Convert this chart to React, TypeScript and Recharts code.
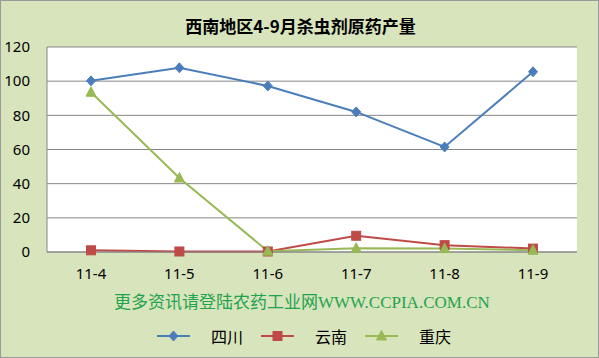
import { LineChart, Line, XAxis, YAxis, CartesianGrid } from "recharts";

const months = ["11-4", "11-5", "11-6", "11-7", "11-8", "11-9"];
const sichuan = [100.2, 107.8, 97.2, 82, 61.5, 105.5];
const yunnan = [1, 0.3, 0.3, 9.5, 4, 2];
const chongqing = [93.5, 43.3, 0.5, 2.2, 2, 1];
const yTicks = [0, 20, 40, 60, 80, 100, 120];

const series = [
    { key: "sichuan", name: "四川", color: "#4a7ebb", shape: "diamond" },
    { key: "yunnan", name: "云南", color: "#be4b48", shape: "square" },
    { key: "chongqing", name: "重庆", color: "#98b954", shape: "triangle" },
];

const data = months.map((m, i) => ({
    month: m,
    sichuan: sichuan[i],
    yunnan: yunnan[i],
    chongqing: chongqing[i],
}));

function Marker({ cx, cy, shape, color }: { cx: number; cy: number; shape: string; color: string }) {
    if (shape === "diamond") {
        return <path d={`M${cx},${cy - 5}L${cx + 4.5},${cy}L${cx},${cy + 5}L${cx - 4.5},${cy}Z`} fill={color} stroke={color} />;
    }
    if (shape === "square") {
        return <rect x={cx - 4.5} y={cy - 4.5} width={9} height={9} fill={color} stroke={color} />;
    }
    return <path d={`M${cx},${cy - 5.5}L${cx + 5},${cy + 4}L${cx - 5},${cy + 4}Z`} fill={color} stroke={color} />;
}

export default function App() {
    return (
        <div
            style={{
                position: "fixed",
                left: 0,
                top: 0,
                width: 599,
                height: 358,
                background: "#d8e4bc",
                border: "1px solid #9a9a9a",
                boxSizing: "border-box",
                fontFamily: "'Noto Sans CJK SC', sans-serif",
            }}
        >
            <div
                style={{
                    position: "absolute",
                    top: 13,
                    left: 0,
                    width: 599,
                    textAlign: "center",
                    fontSize: 17,
                    fontWeight: "bold",
                    color: "#000",
                    lineHeight: "24px",
                }}
            >
                西南地区4-9月杀虫剂原药产量
            </div>
            <div style={{ position: "absolute", left: -1, top: -1 }}>
                <LineChart width={599} height={358} data={data} margin={{ top: 47, right: 22, bottom: 76, left: 0 }}>
                    <CartesianGrid vertical={false} stroke="#868686" fill="#ffffff" />
                    <XAxis
                        dataKey="month"
                        height={30}
                        padding={{ left: 44, right: 44 }}
                        axisLine={{ stroke: "#868686" }}
                        tickLine={false}
                        tickMargin={10}
                        tick={{ fill: "#000", fontSize: 15, fontFamily: "'Noto Sans', sans-serif" }}
                    />
                    <YAxis
                        width={47}
                        domain={[0, 120]}
                        ticks={yTicks}
                        axisLine={{ stroke: "#868686" }}
                        tickLine={false}
                        tickMargin={11}
                        tick={{ fill: "#000", fontSize: 15, fontFamily: "'Noto Sans', sans-serif" }}
                    />
                    {series.map((s) => (
                        <Line
                            key={s.key}
                            dataKey={s.key}
                            name={s.name}
                            stroke={s.color}
                            strokeWidth={2}
                            isAnimationActive={false}
                            dot={(p: any) => <Marker key={p.index} cx={p.cx} cy={p.cy} shape={s.shape} color={s.color} />}
                            activeDot={false}
                        />
                    ))}
                </LineChart>
            </div>
            <div
                style={{
                    position: "absolute",
                    top: 290,
                    left: 113,
                    fontSize: 17,
                    color: "#1fa34f",
                    fontFamily: "'Liberation Serif', 'Noto Sans CJK SC', serif",
                    lineHeight: "24px",
                    whiteSpace: "nowrap",
                }}
            >
                更多资讯请登陆农药工业网WWW.CCPIA.COM.CN
            </div>
            <div style={{ position: "absolute", top: 324, left: 156, display: "flex", alignItems: "center", height: 22 }}>
                {series.map((s) => (
                    <div key={s.key} style={{ display: "flex", alignItems: "center", marginRight: 18 }}>
                        <svg width={33} height={14}>
                            <line x1={0} y1={7} x2={33} y2={7} stroke={s.color} strokeWidth={2} />
                            <Marker cx={16.5} cy={7} shape={s.shape} color={s.color} />
                        </svg>
                        <span style={{ marginLeft: 21, fontSize: 16, color: "#000", lineHeight: "22px" }}>{s.name}</span>
                    </div>
                ))}
            </div>
        </div>
    );
}
